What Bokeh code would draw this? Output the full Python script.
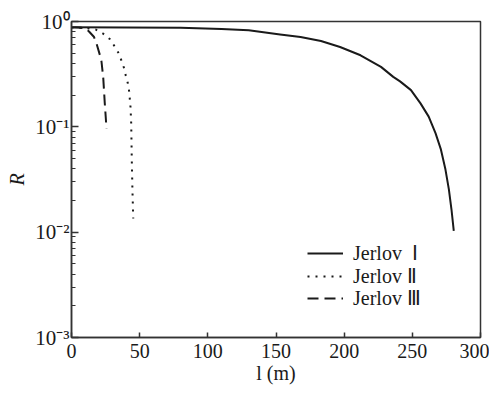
from bokeh.plotting import figure
from bokeh.models import Legend, LegendItem, FixedTicker, LogTicker, CustomJSTickFormatter
from bokeh.embed import file_html
from bokeh.resources import INLINE

# Jerlov I (solid)
l1 = [0, 40, 80, 110, 130, 153, 168, 183, 197, 212, 227, 236, 241, 249, 256,
      262, 267, 271, 274.3, 276.8, 278.7, 280.4]
R1 = [0.88, 0.878, 0.87, 0.85, 0.825, 0.754, 0.711, 0.652, 0.573, 0.478, 0.371,
      0.298, 0.27, 0.223, 0.167, 0.125, 0.0872, 0.0607, 0.0393, 0.0255, 0.0165,
      0.0103]
# Jerlov II (dotted)
l2 = [0, 10, 17.6, 23.0, 28.1, 31.0, 34.3, 36.5, 38.4, 39.8, 41.3, 42.3, 43.3,
      43.8, 44.2, 44.7, 45.3]
R2 = [0.88, 0.87, 0.84, 0.77, 0.681, 0.598, 0.507, 0.431, 0.366, 0.307, 0.26,
      0.217, 0.153, 0.107, 0.05, 0.025, 0.0135]
# Jerlov III (dashed)
l3 = [0, 5, 10.3, 13, 16.4, 18.3, 20.8, 22, 23.3, 24.4, 25.7]
R3 = [0.88, 0.878, 0.859, 0.8, 0.717, 0.62, 0.481, 0.417, 0.29, 0.168, 0.096]

series_names = ["Jerlov  Ⅰ", "Jerlov Ⅱ", "Jerlov Ⅲ"]
x_ticks = [0, 50, 100, 150, 200, 250, 300]

FONT = "Liberation Serif"
INK = "#1a1a1a"
FRAME = "#333333"

p = figure(width=489, height=386, x_range=(0, 300), y_range=(1e-3, 1),
           y_axis_type="log", output_backend="svg", toolbar_location=None,
           min_border_left=71, min_border_right=9, min_border_top=21,
           min_border_bottom=47)
p.xgrid.visible = False
p.ygrid.visible = False
p.outline_line_color = FRAME
p.outline_line_width = 1.5

r1 = p.line(l1, R1, line_color=INK, line_width=2)
r2 = p.line(l2, R2, line_color=INK, line_width=2, line_dash="2 6")
r3 = p.line(l3, R3, line_color=INK, line_width=2, line_dash="11 6")

xa = p.xaxis[0]
xa.ticker = FixedTicker(ticks=x_ticks)
xa.major_tick_in = 5
xa.major_tick_out = 0
xa.minor_tick_in = 0
xa.minor_tick_out = 0
xa.axis_line_color = FRAME
xa.axis_line_width = 1.5
xa.major_tick_line_color = FRAME
xa.major_tick_line_width = 1.5
xa.major_label_standoff = 6
xa.major_label_text_font = FONT
xa.major_label_text_font_size = "20px"
xa.major_label_text_color = INK
xa.axis_label = "l (m)"
xa.axis_label_text_font = FONT
xa.axis_label_text_font_style = "normal"
xa.axis_label_text_font_size = "20px"
xa.axis_label_text_color = INK
xa.axis_label_standoff = 1

ya = p.yaxis[0]
ya.ticker = LogTicker(num_minor_ticks=10)
ya.formatter = CustomJSTickFormatter(code="""
const e = Math.round(Math.log10(tick));
const sup = {'0':'\u2070','1':'\u00b9','2':'\u00b2','3':'\u00b3','-':'\u207b'};
return '10' + String(e).split('').map(c => sup[c]).join('');
""")
ya.major_tick_in = 7
ya.major_tick_out = 0
ya.minor_tick_in = 4
ya.minor_tick_out = 0
ya.axis_line_color = FRAME
ya.axis_line_width = 1.5
ya.major_tick_line_color = FRAME
ya.major_tick_line_width = 1.5
ya.minor_tick_line_color = FRAME
ya.minor_tick_line_width = 1.2
ya.major_label_standoff = 2
ya.major_label_text_font = FONT
ya.major_label_text_font_size = "21px"
ya.major_label_text_color = INK
ya.axis_label = "R"
ya.axis_label_text_font = FONT
ya.axis_label_text_font_style = "italic"
ya.axis_label_text_font_size = "20px"
ya.axis_label_text_color = INK
ya.axis_label_standoff = 4

renderers = [r1, r2, r3]
row_y = [72, 49, 27]
for name, rend, yy in zip(series_names, renderers, row_y):
    lg = Legend(items=[LegendItem(label=name, renderers=[rend])],
                location=(236, yy), padding=0, margin=0, spacing=0,
                glyph_width=36, glyph_height=20, label_height=20,
                label_standoff=10, border_line_alpha=0,
                background_fill_alpha=0, label_text_font=FONT,
                label_text_font_size="20px", label_text_color=INK)
    p.add_layout(lg)

open("out.html", "w").write(file_html(p, INLINE))
